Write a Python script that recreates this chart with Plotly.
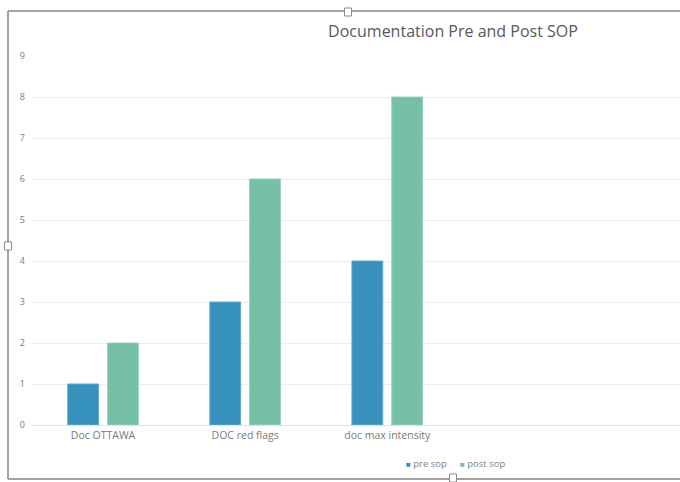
import plotly.graph_objects as go

# Documentation counts before and after the SOP
categories = ["Doc OTTAWA", "DOC red flags", "doc max intensity"]
pre_sop = [1, 3, 4]
post_sop = [2, 6, 8]
series_names = ["pre sop", "post sop"]
series_colors = ["#3692bd", "#75c0a4"]
edge_colors = ["#62abcf", "#9ad2bc"]
y_ticks = list(range(0, 10))

W, H = 680, 482
FONT = "Open Sans"

x_pos = list(range(len(categories)))

fig = go.Figure()
for name, vals, col, edge in zip(series_names, [pre_sop, post_sop], series_colors, edge_colors):
    fig.add_trace(go.Bar(
        x=x_pos, y=vals, name=name, showlegend=False,
        marker=dict(color=col, line=dict(color=edge, width=1)),
    ))

# legend entries at the bottom: small colour square + series name
legend_x = [404, 458]
for name, col, lx in zip(series_names, series_colors, legend_x):
    fig.add_annotation(
        x=lx / W, y=1 - 463 / H, xref="paper", yref="paper",
        xanchor="left", yanchor="middle", showarrow=False,
        text=f"<span style='color:{col};font-size:8px'>■</span> {name}",
        font=dict(family=FONT, size=9.5, color="#7f7f7f"),
    )

fig.update_layout(
    width=W, height=H,
    margin=dict(l=0, r=0, t=0, b=0, pad=0),
    paper_bgcolor="white", plot_bgcolor="white",
    barmode="group", bargap=0.44, bargroupgap=0.225,
    title=dict(
        text="Documentation Pre and Post SOP",
        x=453 / W, y=1 - 31 / H, xanchor="center", yanchor="middle",
        font=dict(family=FONT, size=16, color="#595959"),
    ),
    xaxis=dict(
        domain=[32 / W, 1], range=[-0.5, 4.06],
        tickvals=x_pos, ticktext=categories,
        showgrid=False, zeroline=False, showline=False, ticks="",
        tickfont=dict(family=FONT, size=10.5, color="#7a7a7a"),
        ticklabelstandoff=2, automargin=False,
    ),
    yaxis=dict(
        domain=[1 - 425 / H, 1 - 56 / H], range=[0, 9],
        tickvals=y_ticks, showgrid=True, gridcolor="#ededed", gridwidth=1,
        zeroline=True, zerolinecolor="#e2e2e2", zerolinewidth=1,
        showline=False, ticks="",
        tickfont=dict(family=FONT, size=9, color="#7a7a7a"),
        ticklabelstandoff=6, automargin=False,
    ),
    showlegend=False,
)

# chart frame and its sizing handles
frame = "#a3a3a3"
fig.add_shape(type="line", xref="paper", yref="paper",
              x0=8 / W, x1=1, y0=1 - 11 / H, y1=1 - 11 / H, line=dict(color=frame, width=2))
fig.add_shape(type="line", xref="paper", yref="paper",
              x0=8 / W, x1=1, y0=1 - 479 / H, y1=1 - 479 / H, line=dict(color=frame, width=2))
fig.add_shape(type="line", xref="paper", yref="paper",
              x0=8 / W, x1=8 / W, y0=1 - 11 / H, y1=1 - 479 / H, line=dict(color=frame, width=2))
for cx, cy, w, h in [(348, 12, 7, 8), (8, 246, 7, 8), (453, 478, 7, 8)]:
    fig.add_shape(type="rect", xref="paper", yref="paper",
                  x0=(cx - w / 2) / W, x1=(cx + w / 2) / W,
                  y0=1 - (cy + h / 2) / H, y1=1 - (cy - h / 2) / H,
                  line=dict(color="#8c8c8c", width=1), fillcolor="white")

fig.write_html("out.html")
